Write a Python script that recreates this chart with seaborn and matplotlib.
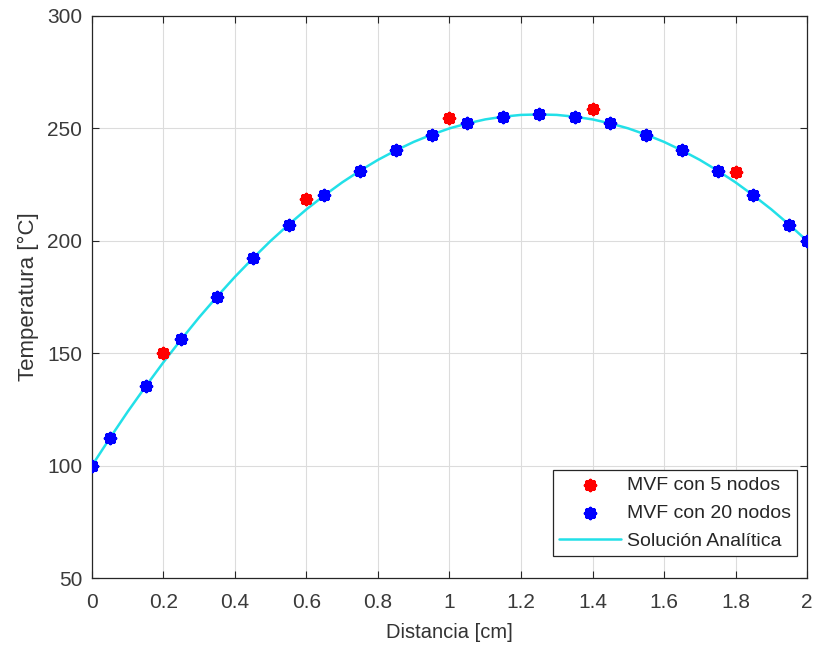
import matplotlib
matplotlib.use("Agg")
import matplotlib.pyplot as plt
import seaborn as sns
import pandas as pd

# Data
x5 = [0.2, 0.6, 1.0, 1.4, 1.8]
t5 = [150, 218.5, 254.5, 258.5, 230.5]

x20 = [0, 0.05, 0.15, 0.25, 0.35, 0.45, 0.55, 0.65, 0.75, 0.85, 0.95,
       1.05, 1.15, 1.25, 1.35, 1.45, 1.55, 1.65, 1.75, 1.85, 1.95, 2.0]
t20 = [100, 112.2, 135.2, 156.2, 175.2, 192.2, 207.2, 220.2, 231.2, 240.2, 247.2,
       252.2, 255.2, 256.2, 255.2, 252.2, 247.2, 240.2, 231.2, 220.2, 207.2, 200]

xa = [0, 0.05, 0.1, 0.15, 0.2, 0.25, 0.3, 0.35, 0.4, 0.45, 0.5, 0.55, 0.6, 0.65,
      0.7, 0.75, 0.8, 0.85, 0.9, 0.95, 1.0, 1.05, 1.1, 1.15, 1.2, 1.25, 1.3, 1.35,
      1.4, 1.45, 1.5, 1.55, 1.6, 1.65, 1.7, 1.75, 1.8, 1.85, 1.9, 1.95, 2.0]
ta = [100, 112.2, 124, 135.2, 146, 156.2, 166, 175.2, 184, 192.2, 200, 207.2, 214,
      220.2, 226, 231.2, 236, 240.2, 244, 247.2, 250, 252.2, 254, 255.2, 256, 256.2,
      256, 255.2, 254, 252.2, 250, 247.2, 244, 240.2, 236, 231.2, 226, 220.2, 214,
      207.2, 200]

xticks = [0, 0.2, 0.4, 0.6, 0.8, 1, 1.2, 1.4, 1.6, 1.8, 2]
xticklabels = ["0", "0.2", "0.4", "0.6", "0.8", "1", "1.2", "1.4", "1.6", "1.8", "2"]
yticks = [50, 100, 150, 200, 250, 300]

sns.set_theme(style="whitegrid")
plt.rcParams['font.family'] = ['Liberation Sans', 'DejaVu Sans']

fig = plt.figure(figsize=(8.16, 6.47), dpi=100)
ax = fig.add_axes([0.1127, 0.1066, 0.8763, 0.8687])
ax.set_facecolor("white")

df5 = pd.DataFrame({"x": x5, "t": t5})
df20 = pd.DataFrame({"x": x20, "t": t20})
dfa = pd.DataFrame({"x": xa, "t": ta})

ast = (8, 2, 0)
sns.scatterplot(data=df5, x="x", y="t", ax=ax, marker=ast, s=50, color="#ff0000",
                edgecolor="#ff0000", linewidth=2.7, label="MVF con 5 nodos", zorder=4)
sns.scatterplot(data=df20, x="x", y="t", ax=ax, marker=ast, s=50, color="#0000ff",
                edgecolor="#0000ff", linewidth=2.7, label="MVF con 20 nodos", zorder=4)
sns.lineplot(data=dfa, x="x", y="t", ax=ax, color="#22e0e8", linewidth=1.8,
             label="Solución Analítica", zorder=3, sort=False)

ax.set_xlim(0, 2)
ax.set_ylim(50, 300)
ax.set_xticks(xticks)
ax.set_xticklabels(xticklabels)
ax.set_yticks(yticks)
ax.tick_params(axis="both", which="both", direction="in", length=5, width=0.8,
               colors="#262626", labelcolor="#3a3a3a", labelsize=15, top=True,
               right=True, bottom=True, left=True)
ax.tick_params(axis="x", pad=11)
ax.tick_params(axis="y", pad=7)
ax.grid(True, color="#dcdcdc", linewidth=0.8)
for s in ax.spines.values():
    s.set_color("#262626")
    s.set_linewidth(0.9)

ax.set_xlabel("Distancia [cm]", fontsize=14.5, color="#333333", labelpad=8)
ax.set_ylabel("Temperatura [°C]", fontsize=16, color="#333333", labelpad=6)

leg = ax.legend(loc="lower right", fontsize=14, frameon=True, fancybox=False,
                edgecolor="#262626", framealpha=1, borderpad=0.3, labelspacing=0.55,
                handlelength=3.2, handletextpad=0.3, borderaxespad=0,
                bbox_to_anchor=(0.986, 0.039))
leg.get_frame().set_linewidth(0.9)
for t in leg.get_texts():
    t.set_color("#262626")

fig.savefig("out.png", dpi=100)
